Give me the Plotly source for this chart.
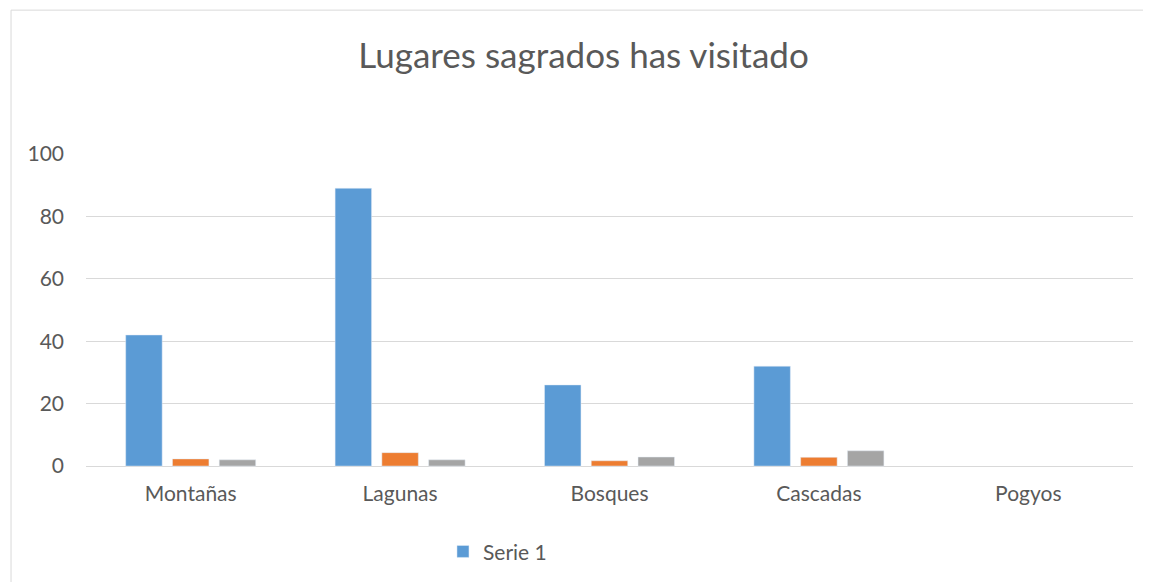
import plotly.graph_objects as go

# Datos
categorias = ["Montañas", "Lagunas", "Bosques", "Cascadas", "Pogyos"]
serie_1 = [42, 89, 26, 32, None]
serie_2 = [2.3, 4.3, 1.7, 2.8, None]
serie_3 = [2, 2, 2.9, 4.9, None]

texto = "#595959"
fuente = "Lato, 'Open Sans', sans-serif"

fig = go.Figure()
fig.add_trace(go.Bar(x=categorias, y=serie_1, name="Serie 1", marker_color="#5b9bd5"))
fig.add_trace(go.Bar(x=categorias, y=serie_2, name="Serie 2", marker_color="#ed7d31", showlegend=False))
fig.add_trace(go.Bar(x=categorias, y=serie_3, name="Serie 3", marker_color="#a5a5a5", showlegend=False))

# marco del gráfico (solo borde superior e izquierdo visibles)
fig.add_shape(type="rect", xref="paper", yref="paper",
              x0=-0.0716, x1=1.2, y0=-0.6, y1=1.455,
              line=dict(color="#d9d9d9", width=1), layer="below")

fig.update_layout(
    width=1151, height=582,
    margin=dict(l=78, r=26, t=145, b=123),
    paper_bgcolor="white", plot_bgcolor="white",
    barmode="group", bargap=0.33, bargroupgap=0.22,
    font=dict(family=fuente, color=texto, size=21),
    title=dict(text="Lugares sagrados has visitado", x=0.5, xanchor="center",
               y=0.918, yanchor="middle", font=dict(size=35, color=texto)),
    xaxis=dict(showgrid=False, showline=False, ticks="", ticklabelstandoff=12,
               tickfont=dict(size=21)),
    yaxis=dict(range=[-0.3, 100.3], tickvals=[0, 20, 40, 60, 80, 100],
               gridcolor="#d9d9d9", gridwidth=1.3,
               zeroline=True, zerolinecolor="#d9d9d9", zerolinewidth=1.3,
               showline=False, ticks="", ticklabelstandoff=21,
               tickfont=dict(size=21)),
    legend=dict(orientation="h", x=0.393, xanchor="center", y=-0.27, yanchor="middle",
                font=dict(size=21)),
    showlegend=True,
)

fig.write_html("out.html")
